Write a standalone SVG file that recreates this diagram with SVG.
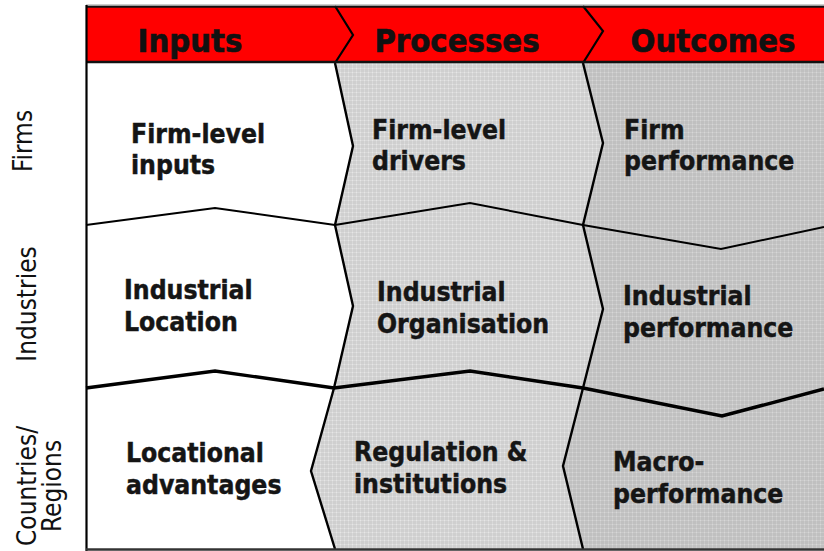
<svg xmlns="http://www.w3.org/2000/svg" width="824" height="551" viewBox="0 0 824 551">
  <defs>
    <!-- fine dotted-grid textures for the shaded columns -->
    <pattern id="texProc" width="4" height="4" patternUnits="userSpaceOnUse">
      <rect width="4" height="4" fill="#cfcfcf"/>
      <rect width="4" height="1" fill="#d9d9d9"/>
      <rect width="1" height="4" fill="#d9d9d9"/>
      <rect width="1" height="1" fill="#e6e6e6"/>
    </pattern>
    <pattern id="texOut" width="4" height="4" patternUnits="userSpaceOnUse">
      <rect width="4" height="4" fill="#c0c0c0"/>
      <rect width="4" height="1" fill="#cacaca"/>
      <rect width="1" height="4" fill="#cacaca"/>
      <rect width="1" height="1" fill="#d7d7d7"/>
    </pattern>
    <style>
      .head { font-family: "DejaVu Sans", Verdana, sans-serif; font-stretch: condensed; font-weight: bold; font-size: 32.5px; fill: #111; stroke: #111; stroke-width: 0.6px; text-anchor: middle; }
      .cell { font-family: "DejaVu Sans", Verdana, sans-serif; font-stretch: condensed; font-weight: bold; font-size: 26.3px; fill: #151515; stroke: #151515; stroke-width: 0.45px; }
      .row  { font-family: "DejaVu Sans", Verdana, sans-serif; font-stretch: condensed; font-size: 26px; fill: #111; text-anchor: middle; }
      .inp  { fill: #ffffff; }
      .proc { fill: url(#texProc); }
      .out  { fill: url(#texOut); }
      .edge { fill: none; stroke: #000; stroke-linejoin: miter; }
    </style>
  </defs>

  <rect width="824" height="551" fill="#ffffff"/>

  <!-- row labels on the left -->
  <g id="row-labels">
    <text class="row" transform="translate(32,141) rotate(-90)">Firms</text>
    <text class="row" transform="translate(36,304) rotate(-90)">Industries</text>
    <text class="row" transform="translate(36,486) rotate(-90)">Countries/</text>
    <text class="row" transform="translate(61,486) rotate(-90)">Regions</text>
  </g>

  <!-- column header band -->
  <g id="header">
    <rect x="86" y="6" width="738" height="57" fill="#ff0000"/>
    <text class="head" x="190" y="52">Inputs</text>
    <text class="head" x="457" y="52">Processes</text>
    <text class="head" x="713" y="52">Outcomes</text>
  </g>

  <!-- Firms row -->
  <g id="firm-inputs">
    <polygon class="inp" points="86,63 335,63 353,146 335,225 215,208 86,225"/>
    <text class="cell" x="131" y="143">Firm-level</text>
    <text class="cell" x="131" y="174">inputs</text>
  </g>
  <g id="firm-drivers">
    <polygon class="proc" points="335,63 583,63 603,143 583,225 470,203 335,225 353,146"/>
    <text class="cell" x="372" y="139">Firm-level</text>
    <text class="cell" x="372" y="170">drivers</text>
  </g>
  <g id="firm-performance">
    <polygon class="out" points="583,63 824,63 824,227 721,249 583,225 603,143"/>
    <text class="cell" x="624" y="139">Firm</text>
    <text class="cell" x="624" y="170">performance</text>
  </g>

  <!-- Industries row -->
  <g id="industrial-location">
    <polygon class="inp" points="86,225 215,208 335,225 353,306 334,388 215,371 86,388"/>
    <text class="cell" x="124" y="299">Industrial</text>
    <text class="cell" x="124" y="331">Location</text>
  </g>
  <g id="industrial-organisation">
    <polygon class="proc" points="335,225 470,203 583,225 603,309 583,388 470,371 334,388 353,306"/>
    <text class="cell" x="377" y="301">Industrial</text>
    <text class="cell" x="377" y="333">Organisation</text>
  </g>
  <g id="industrial-performance">
    <polygon class="out" points="583,225 721,249 824,227 824,389 722,416 583,388 603,309"/>
    <text class="cell" x="623" y="305">Industrial</text>
    <text class="cell" x="623" y="337">performance</text>
  </g>

  <!-- Countries / Regions row -->
  <g id="locational-advantages">
    <polygon class="inp" points="86,388 215,371 334,388 311,471 335,549 86,549"/>
    <text class="cell" x="126" y="462">Locational</text>
    <text class="cell" x="126" y="494">advantages</text>
  </g>
  <g id="regulation-institutions">
    <polygon class="proc" points="334,388 470,371 583,388 563,466 583,549 335,549 311,471"/>
    <text class="cell" x="354" y="461">Regulation &amp;</text>
    <text class="cell" x="354" y="493">institutions</text>
  </g>
  <g id="macro-performance">
    <polygon class="out" points="583,388 722,416 824,389 824,549 583,549 563,466"/>
    <text class="cell" x="613" y="471">Macro-</text>
    <text class="cell" x="613" y="503">performance</text>
  </g>

  <!-- dividing lines between the cells -->
  <g id="connectors">
    <!-- header chevrons -->
    <polyline class="edge" stroke-width="2.2" points="335,6 353,35 335,63"/>
    <polyline class="edge" stroke-width="2.2" points="583,6 603,31 583,63"/>
    <!-- column boundaries -->
    <polyline class="edge" stroke-width="2.4" points="335,63 353,146 335,225 353,306 334,388 311,471 335,549"/>
    <polyline class="edge" stroke-width="2.4" points="583,63 603,143 583,225 603,309 583,388 563,466 583,549"/>
    <!-- row boundaries -->
    <polyline class="edge" stroke-width="2" points="86,225 215,208 335,225 470,203 583,225 721,249 824,227"/>
    <polyline class="edge" stroke-width="3.4" points="86,388 215,371 334,388 470,371 583,388 722,416 824,389"/>
    <!-- frame -->
    <line x1="86" y1="5" x2="824" y2="5" stroke="#9a9a9a" stroke-width="1"/>
    <line x1="86" y1="6.8" x2="824" y2="6.8" stroke="#111" stroke-width="2"/>
    <line x1="86" y1="62" x2="824" y2="62" stroke="#111" stroke-width="2.6"/>
    <line x1="86.5" y1="5" x2="86.5" y2="551" stroke="#000" stroke-width="2.2"/>
    <line x1="86" y1="549.5" x2="824" y2="549.5" stroke="#333" stroke-width="2.4"/>
  </g>
</svg>
